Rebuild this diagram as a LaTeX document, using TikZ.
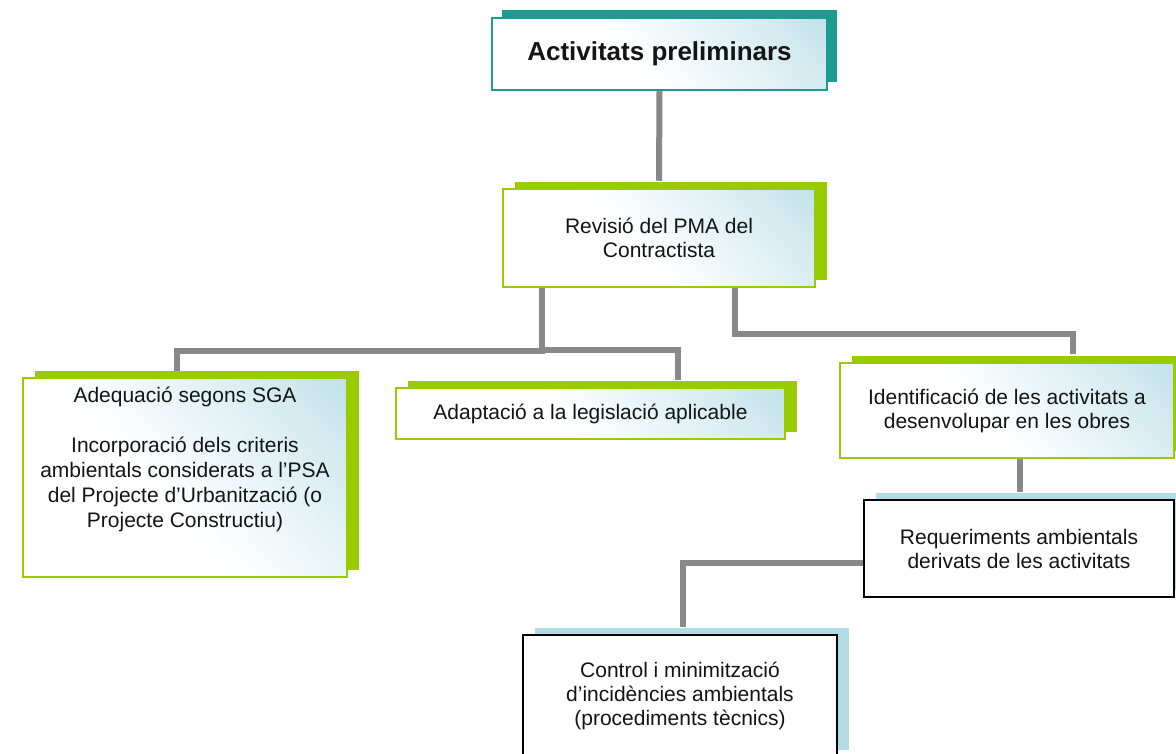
\documentclass[tikz,border=0pt]{standalone}
\usepackage{fontspec}
\setmainfont{Liberation Sans}
\usetikzlibrary{shadows,calc,backgrounds}
\definecolor{tealc}{RGB}{28,155,145}
\definecolor{greenc}{RGB}{153,204,0}
\definecolor{lblue}{RGB}{168,214,224}
\definecolor{sblue}{RGB}{178,220,227}
\definecolor{connc}{RGB}{136,136,136}
\definecolor{txtc}{RGB}{20,20,20}
\pgfdeclarehorizontalshading{boxsh}{100bp}{color(0bp)=(white); color(45bp)=(white); color(72bp)=(lblue!45!white); color(100bp)=(lblue)}
\tikzset{
  basebox/.style={rectangle, inner sep=0pt, align=center, text=txtc,
    font=\fontsize{21}{24}\selectfont},
  gradbox/.style={basebox, shade, shading=boxsh, shading angle=42},
  tealbox/.style={gradbox, draw=tealc, line width=2pt,
    general shadow={fill=tealc, shadow xshift=10pt, shadow yshift=8pt}},
  greenbox/.style={gradbox, draw=greenc, line width=2.5pt,
    general shadow={fill=greenc, shadow xshift=12pt, shadow yshift=7pt}},
  plainbox/.style={basebox, fill=white, draw=black, line width=2pt,
    general shadow={fill=sblue, shadow xshift=12pt, shadow yshift=7pt}},
  conn/.style={draw=connc, line width=6pt}
}
\begin{document}
\begin{tikzpicture}[x=1pt,y=-1pt]
\path[use as bounding box] (0,0) rectangle (1176,753);
\clip (0,0) rectangle (1176,753);

\node[tealbox, minimum width=335pt, minimum height=72pt,
  font=\bfseries\fontsize{26}{30}\selectfont] (top) at (659.5,54) {Activitats preliminars};
\node[greenbox, minimum width=312pt, minimum height=98pt] (rev) at (659,238)
  {Revisió del PMA del\\Contractista};
\node[greenbox, minimum width=324pt, minimum height=199pt] (adeq) at (185,477.5)
  {\parbox[t][190pt][t]{320pt}{\centering\fontsize{21}{25}\selectfont
   \vspace*{5pt}Adequació segons SGA\\[25pt]
   Incorporació dels criteris\\ambientals considerats a l’PSA\\del Projecte d’Urbanització (o\\Projecte Constructiu)}};
\node[greenbox, minimum width=389pt, minimum height=51pt] (adap) at (590.5,413.5)
  {Adaptació a la legislació aplicable};
\node[greenbox, minimum width=334pt, minimum height=95pt] (ident) at (1007,410.5)
  {Identificació de les activitats a\\desenvolupar en les obres};
\node[plainbox, minimum width=310pt, minimum height=97pt] (req) at (1019,548.5)
  {Requeriments ambientals\\derivats de les activitats};
\node[plainbox, minimum width=314pt, minimum height=122pt] (ctrl) at (680,696)
  {Control i minimització\\d’incidències ambientals\\(procediments tècnics)};

\begin{scope}[on background layer]
\fill[white] (0,0) rectangle (1176,753);
\draw[conn] (top.south) -- ($(rev.north)+(0,-7)$);
\draw[conn] ($(rev.south)+(-117,0)$) -- ++(0,63) -| ($(adeq.north)+(-8,-6)$);
\draw[conn] ($(rev.south)+(-117,62)$) -| ($(adap.north)+(87.5,-7)$);
\draw[conn] ($(rev.south)+(76,0)$) -- ++(0,46) -| ($(ident.north)+(66,-8)$);
\draw[conn] ($(ident.south)+(13,0)$) -- ($(req.north)+(1,-7)$);
\draw[conn] ($(req.west)+(0,14.5)$) -| ($(ctrl.north)+(3,-7)$);
\end{scope}
\end{tikzpicture}
\end{document}
